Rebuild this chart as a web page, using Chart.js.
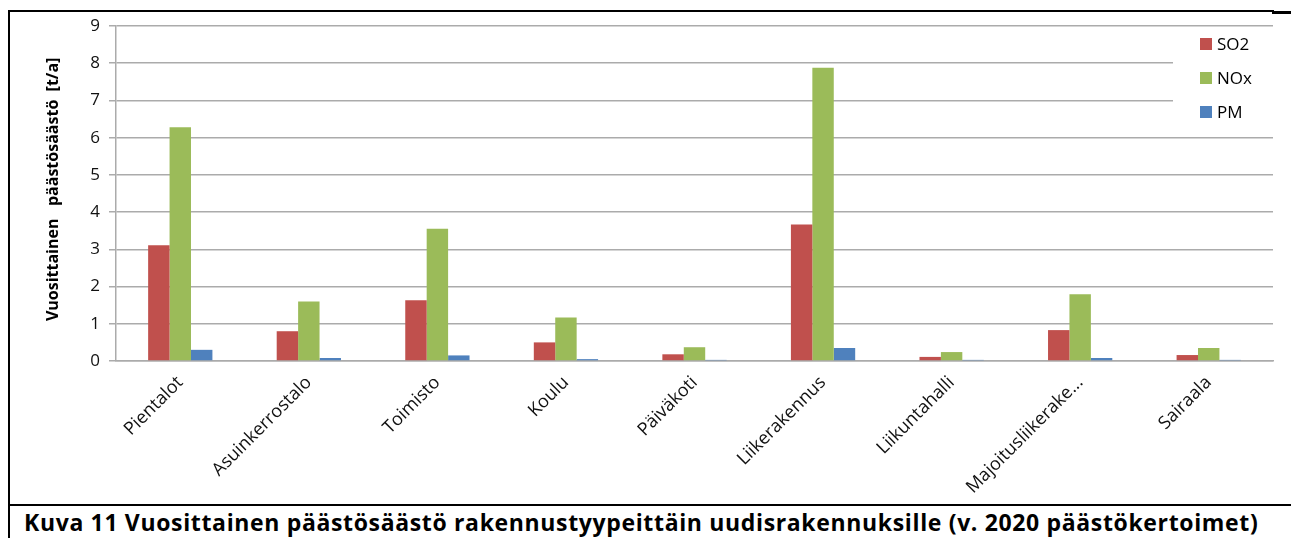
<!DOCTYPE html>
<html>
<head>
<meta charset="utf-8">
<script src="https://cdn.jsdelivr.net/npm/chart.js@4"></script>
<style>
  html, body { margin: 0; padding: 0; background: #fff; width: 1291px; height: 538px; overflow: hidden; }
  #frame { position: absolute; left: 8px; top: 10px; width: 1264px; height: 540px; border-left: 2px solid #000; border-top: 2px solid #000; }
  #frameRight { position: absolute; left: 1272px; top: 11px; width: 30px; height: 3px; background: #000; }
  #wrap { position: absolute; left: 10px; top: 12px; width: 1281px; height: 492px; }
  #caption {
    position: absolute; left: 8px; top: 504px; width: 1290px; height: 40px;
    border-top: 2px solid #000; box-sizing: border-box;
    font-family: "Open Sans", sans-serif; font-weight: bold; font-size: 23px;
    letter-spacing: 0.65px; padding-left: 16px; line-height: 32px; color: #000; white-space: nowrap;
  }
</style>
</head>
<body>
<div id="frame"></div>
<div id="frameRight"></div>
<div id="wrap"><canvas id="emissionChart" width="1281" height="492"></canvas></div>
<div id="caption">Kuva 11 Vuosittainen päästösäästö rakennustyypeittäin uudisrakennuksille (v. 2020 päästökertoimet)</div>
<script>
const categories = ["Pientalot", "Asuinkerrostalo", "Toimisto", "Koulu", "Päiväkoti",
    "Liikerakennus", "Liikuntahalli", "Majoitusliikerake...", "Sairaala"];
const so2 = [3.11, 0.80, 1.63, 0.50, 0.18, 3.67, 0.11, 0.83, 0.16];
const nox = [6.28, 1.60, 3.55, 1.17, 0.37, 7.88, 0.24, 1.79, 0.35];
const pm = [0.30, 0.08, 0.15, 0.05, 0.03, 0.35, 0.03, 0.08, 0.03];
const yTicks = [0, 1, 2, 3, 4, 5, 6, 7, 8, 9];

const fontFamily = "'Open Sans', 'Liberation Sans', sans-serif";
const gridGray = "#ababab";

// legend drawn inside the plot area, top right, over a white patch
const insideLegend = {
    id: "insideLegend",
    afterDatasetsDraw(chart) {
        const ctx = chart.ctx;
        const area = chart.chartArea;
        ctx.save();
        ctx.fillStyle = "#fff";
        ctx.fillRect(area.right - 100, area.top + 4, 100, 100);
        ctx.font = "17px " + fontFamily;
        ctx.textBaseline = "middle";
        ctx.textAlign = "left";
        chart.data.datasets.forEach((ds, i) => {
            const y = area.top + 18 + i * 34;
            ctx.fillStyle = ds.backgroundColor;
            ctx.fillRect(area.right - 73, y - 6, 12, 12);
            ctx.fillStyle = "#000";
            ctx.fillText(ds.label, area.right - 56, y + 1);
        });
        ctx.restore();
    }
};

const ctx = document.getElementById("emissionChart").getContext("2d");

new Chart(ctx, {
    type: "bar",
    data: {
        labels: categories,
        datasets: [
            { label: "SO2", data: so2, backgroundColor: "#c0504d" },
            { label: "NOx", data: nox, backgroundColor: "#9bbb59" },
            { label: "PM", data: pm, backgroundColor: "#4f81bd" }
        ]
    },
    options: {
        responsive: false,
        animation: false,
        layout: { padding: { top: 14, right: 18, left: 0, bottom: 0 } },
        datasets: {
            bar: {
                categoryPercentage: 0.5,
                barPercentage: 1.0,
                borderWidth: 0
            }
        },
        plugins: {
            legend: { display: false },
            tooltip: { enabled: false }
        },
        scales: {
            x: {
                grid: { display: false },
                border: { display: true, color: gridGray, width: 1.5 },
                ticks: {
                    color: "#111",
                    font: { family: fontFamily, size: 18 },
                    minRotation: 45,
                    maxRotation: 45,
                    autoSkip: false,
                    padding: 3
                },
                afterFit(scale) { scale.height = 143; }
            },
            y: {
                min: 0,
                max: 9,
                afterBuildTicks(scale) { scale.ticks = yTicks.map(v => ({ value: v })); },
                grid: { color: gridGray, lineWidth: 1.5, tickLength: 7, tickColor: gridGray },
                border: { color: gridGray, width: 1.5 },
                ticks: {
                    color: "#111",
                    font: { family: fontFamily, size: 17 },
                    padding: 9
                },
                title: {
                    display: true,
                    text: "  Vuosittainen   päästösäästö  [t/a]",
                    color: "#000",
                    font: { family: fontFamily, size: 16, weight: "bold" },
                    padding: { top: 34, bottom: 0 }
                },
                afterFit(scale) {
                    scale.width = 106;
                    scale.paddingTop = 0;
                    scale.paddingBottom = 0;
                }
            }
        }
    },
    plugins: [insideLegend]
});
</script>
</body>
</html>
